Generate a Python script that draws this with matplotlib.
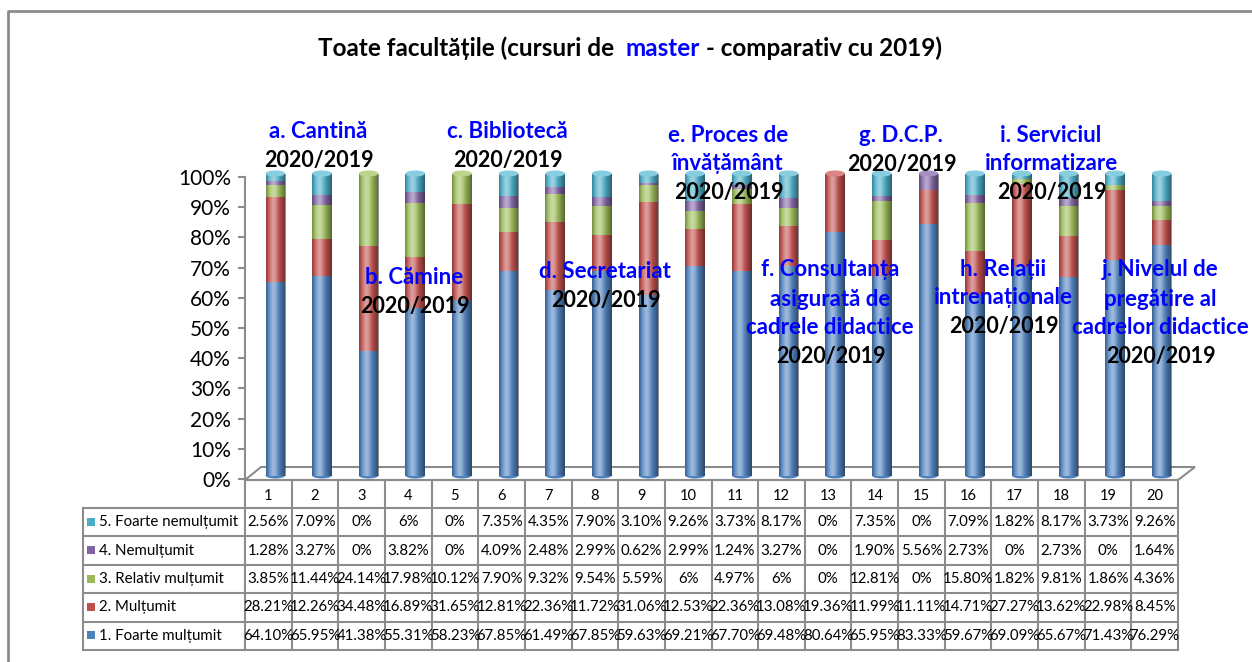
import numpy as np
import matplotlib
matplotlib.use("Agg")
import matplotlib.pyplot as plt
from matplotlib.patches import Ellipse, Polygon, Rectangle
from matplotlib.transforms import Affine2D, ScaledTranslation

plt.rcParams["font.family"] = ["Lato", "DejaVu Sans"]

# ── data ────────────────────────────────────────────────────────────
categories = [str(i) for i in range(1, 21)]
foarte_multumit = [64.10, 65.95, 41.38, 55.31, 58.23, 67.85, 61.49, 67.85, 59.63, 69.21,
                   67.70, 69.48, 80.64, 65.95, 83.33, 59.67, 69.09, 65.67, 71.43, 76.29]
multumit = [28.21, 12.26, 34.48, 16.89, 31.65, 12.81, 22.36, 11.72, 31.06, 12.53,
            22.36, 13.08, 19.36, 11.99, 11.11, 14.71, 27.27, 13.62, 22.98, 8.45]
relativ_multumit = [3.85, 11.44, 24.14, 17.98, 10.12, 7.90, 9.32, 9.54, 5.59, 6,
                    4.97, 6, 0, 12.81, 0, 15.80, 1.82, 9.81, 1.86, 4.36]
nemultumit = [1.28, 3.27, 0, 3.82, 0, 4.09, 2.48, 2.99, 0.62, 2.99,
              1.24, 3.27, 0, 1.90, 5.56, 2.73, 0, 2.73, 0, 1.64]
foarte_nemultumit = [2.56, 7.09, 0, 6, 0, 7.35, 4.35, 7.90, 3.10, 9.26,
                     3.73, 8.17, 0, 7.35, 0, 7.09, 1.82, 8.17, 3.73, 9.26]

series_names = ["1. Foarte mulțumit", "2. Mulțumit", "3. Relativ mulțumit",
                "4. Nemulțumit", "5. Foarte nemulțumit"]
series_values = [foarte_multumit, multumit, relativ_multumit, nemultumit, foarte_nemultumit]
colors = ["#4F81BD", "#C0504D", "#9BBB59", "#8064A2", "#4BACC6"]
cap_colors = ["#7FA4D3", "#D98583", "#BCD58B", "#A58FC2", "#86CDE0"]

BLUE = "#0000FF"
GRID = "#8C8C8C"

W, H = 1252, 662
fig = plt.figure(figsize=(W / 100, H / 100), dpi=100)
fig.patch.set_facecolor("white")

# pixel coordinate transform (origin top-left)
px = Affine2D().scale(1 / W, -1 / H).translate(0, 1) + fig.transFigure

# overlay axes in pixel coords for frame, floor and table
ov = fig.add_axes([0, 0, 1, 1], zorder=-1)
ov.set_xlim(0, W)
ov.set_ylim(H, 0)
ov.axis("off")

# outer frame
ov.plot([8, 8, W + 5], [H + 5, 11, 11], color="#8C8C8C", lw=2)

# floor
ov.add_patch(Polygon([(245, 480), (1178, 480), (1195, 467), (261, 467)],
                     closed=True, facecolor="white", edgecolor=GRID, lw=1.5))

# ── bars ────────────────────────────────────────────────────────────
X0, X1 = 245, 1178
Y0, Y100 = 479, 177
ax = fig.add_axes([X0 / W, 1 - Y0 / H, (X1 - X0) / W, (Y0 - Y100) / H])
ax.patch.set_alpha(0)
ax.set_xlim(-0.5, 19.5)
ax.set_ylim(0, 100)
for s in ["top", "right", "bottom"]:
    ax.spines[s].set_visible(False)
ax.spines["left"].set_color(GRID)
ax.spines["left"].set_linewidth(1.5)
ax.set_xticks([])
ax.set_yticks(np.arange(0, 101, 10))
ax.set_yticklabels([f"{v}%" for v in range(0, 101, 10)], fontsize=15)
ax.tick_params(axis="y", length=5, width=1.5, color=GRID, pad=5)

shift = ax.transData + ScaledTranslation(0.07, 0.035, fig.dpi_scale_trans)
xpos = np.arange(len(categories))
bw = 0.42
bottom = np.zeros(len(categories))

# bottom round
for i in xpos:
    e = Ellipse((i, 0), bw, 2.0, facecolor=colors[0], edgecolor="none",
                transform=shift, clip_on=False, zorder=1)
    ax.add_patch(e)

for vals, col in zip(series_values, colors):
    bars = ax.bar(xpos, vals, bw, bottom=bottom, color=col, edgecolor="none",
                  zorder=2)
    for p in bars:
        p.set_transform(shift)
        p.set_clip_on(False)
    bottom = bottom + np.array(vals)

# cylinder shading
t = np.linspace(0, 1, 80)
hi = 0.45 * np.exp(-((t - 0.38) / 0.2) ** 2)
dk = 0.45 * np.clip((t - 0.55) / 0.45, 0, 1) ** 1.3 + 0.25 * np.clip((0.15 - t) / 0.15, 0, 1)
img_hi = np.zeros((1, len(t), 4)); img_hi[..., :3] = 1; img_hi[0, :, 3] = hi
img_dk = np.zeros((1, len(t), 4)); img_dk[0, :, 3] = dk
for i in xpos:
    top = bottom[i]
    for img in (img_hi, img_dk):
        im = ax.imshow(img, extent=(i - bw / 2, i + bw / 2, 0, top), aspect="auto",
                       interpolation="bilinear", zorder=3)
        im.set_transform(shift)
        im.set_clip_on(False)
    # top cap colored by the last non-zero segment
    last = max(k for k, v in enumerate(series_values) if v[i] > 0)
    ax.add_patch(Ellipse((i, top), bw, 2.0, facecolor=cap_colors[last],
                         edgecolor="none", transform=shift, clip_on=False, zorder=4))
ax.set_xlim(-0.5, 19.5)
ax.set_ylim(0, 100)

# ── data table ──────────────────────────────────────────────────────
col_w = (X1 - X0) / len(categories)
HEAD_TOP, ROW_TOP, ROW_H = 480, 508, 28.4
LBL_X = 83
n_rows = len(series_names)
bot = ROW_TOP + n_rows * ROW_H
lw = 1.5
# horizontals
ov.plot([X0, X1], [HEAD_TOP, HEAD_TOP], color=GRID, lw=lw)
for r in range(n_rows + 1):
    y = ROW_TOP + r * ROW_H
    ov.plot([LBL_X, X1], [y, y], color=GRID, lw=lw)
# verticals
ov.plot([LBL_X, LBL_X], [ROW_TOP, bot], color=GRID, lw=lw)
for c in range(len(categories) + 1):
    x = X0 + c * col_w
    ov.plot([x, x], [HEAD_TOP, bot], color=GRID, lw=lw)

for c, name in enumerate(categories):
    ov.text(X0 + (c + 0.5) * col_w, 496, name, ha="center", va="center", fontsize=10.5)


def fmt(v):
    return f"{int(v)}%" if float(v).is_integer() else f"{v:.2f}%"


for r in range(n_rows):
    k = n_rows - 1 - r
    yc = ROW_TOP + (r + 0.5) * ROW_H
    ov.add_patch(Rectangle((87, yc - 4.5), 8, 8, facecolor=colors[k], edgecolor="none"))
    ov.text(99, yc, series_names[k], ha="left", va="center", fontsize=10.8)
    for c in range(len(categories)):
        ov.text(X0 + (c + 0.5) * col_w, yc, fmt(series_values[k][c]),
                ha="center", va="center", fontsize=10.8)

# ── title ───────────────────────────────────────────────────────────
renderer = fig.canvas.get_renderer()
parts = [("Toate facultățile (cursuri de  ", "black"), ("master", BLUE),
         (" - comparativ cu 2019)", "black")]
texts = []
for s, c in parts:
    texts.append(fig.text(0, 48, s, color=c, fontsize=17.5, fontweight="bold",
                          ha="left", va="center", transform=px))
widths = [tx.get_window_extent(renderer).width for tx in texts]
x = 630 - sum(widths) / 2
for tx, w in zip(texts, widths):
    tx.set_x(x)
    x += w

# ── group annotations ───────────────────────────────────────────────
notes = [
    (318, 131, ["a. Cantină"]),
    (414, 277, ["b. Cămine"]),
    (507, 131, ["c. Bibliotecă"]),
    (605, 271, ["d. Secretariat"]),
    (728, 135, ["e. Proces de", "învățământ"]),
    (830, 270, ["f. Consultanța", "asigurată de", "cadrele didactice"]),
    (901, 136, ["g. D.C.P."]),
    (1003, 269, ["h. Relații", "intrenaționale"]),
    (1051, 135, ["i. Serviciul", "informatizare"]),
    (1160, 270, ["j. Nivelul de", "pregătire al", "cadrelor didactice"]),
]
LINE = 29
for xc, y, lines in notes:
    for j, s in enumerate(lines):
        fig.text(xc, y + j * LINE, s, color=BLUE, fontsize=16, fontweight="bold",
                 ha="center", va="center", transform=px)
    fig.text(xc + 1, y + len(lines) * LINE, "2020/2019", color="black", fontsize=15.5,
             fontweight="bold", ha="center", va="center", transform=px)

fig.savefig("out.png", dpi=100, facecolor="white")
